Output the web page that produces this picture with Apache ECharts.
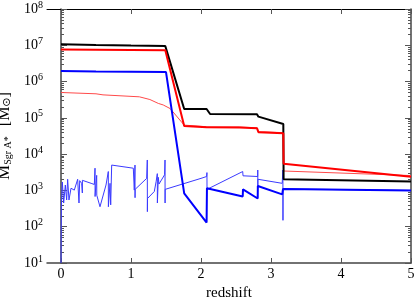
<!DOCTYPE html>
<html><head><meta charset="utf-8">
<script src="https://cdn.jsdelivr.net/npm/echarts@6/dist/echarts.min.js"></script>
<style>html,body{margin:0;padding:0;background:#fff}#c{width:415px;height:299px}</style>
</head><body><div id="c"></div>
<script>
// Data: [redshift, mass in solar masses]
var blackTotal = [[0,1.07e7],[0.5,1.02e7],[1.0,9.8e6],[1.49,9.5e6],[1.76,1.76e5],[2.08,1.76e5],[2.13,1.28e5],[2.80,1.26e5],[2.82,1.08e5],[3.176,6.8e4],[3.18,2030],[5,1750]];
var redThick = [[0,7.6e6],[0.5,7.5e6],[1.0,7.4e6],[1.49,7.3e6],[1.76,5.97e4],[2.08,5.5e4],[2.55,5.4e4],[2.80,5.2e4],[2.82,4.0e4],[3.176,3.76e4],[3.18,5400],[5,2400]];
var redThin = [[0,5.0e5],[0.5,4.6e5],[0.6,4.3e5],[1.12,3.8e5],[1.27,3.2e5],[1.39,2.5e5],[1.46,2.27e5],[1.56,1.8e5],[1.76,6.3e4],[2.08,5.7e4],[2.55,5.6e4],[2.80,5.3e4],[2.82,4.2e4],[3.176,3.9e4],[3.18,3430],[5,2570]];
var blueThick = [[0,1.95e6],[0.5,1.9e6],[1.0,1.87e6],[1.5,1.83e6],[1.76,830],[2.08,130],[2.085,1150],[2.596,680],[2.6,1070],[2.81,600],[2.812,1320],[3.16,780],[3.172,1100],[5,1000]];
var blueThin = [[0,10],[0.005,355],[0.019,1710],[0.038,450],[0.062,1410],[0.081,545],[0.095,2030],[0.114,545],[0.143,1150],[0.162,1260],[0.19,1020],[0.238,2030],[0.257,450],[0.267,1860],[0.295,1570],[0.305,850],[0.306,1900],[0.43,1570],[0.476,1460],[0.486,4100],[0.487,680],[0.5,1570],[0.51,2600],[0.511,740],[0.557,355],[0.643,1410],[0.676,3320],[0.677,355],[0.7,1570],[0.71,400],[0.724,5000],[1.033,4100],[1.047,1020],[1.057,5000],[1.058,630],[1.059,1070],[1.224,2150],[1.233,6900],[1.234,260],[1.236,600],[1.333,935],[1.36,1800],[1.376,2900],[1.377,450],[1.39,2300],[1.40,1500],[1.48,2700],[1.486,6900],[1.487,450],[1.488,1070],[2.0,2150],[2.08,2420],[2.085,3100],[2.086,1070],[2.596,3320],[2.6,2530],[2.81,2420],[2.811,3650],[2.812,1250],[2.813,2030],[3.16,1570],[3.17,3650],[3.171,150],[3.172,1100],[5,1000]];
var xTicks = [0,1,2,3,4,5];
var yMajor = [1e1,1e2,1e3,1e4,1e5,1e6,1e7,1e8];
var yMinor = (function(){var a=[];for(var d=1;d<8;d++){for(var k=2;k<=9;k++){a.push(k*Math.pow(10,d));}}return a;})();

var FONT = 'Liberation Serif';
var axisCol = '#444';
function yAx(pos, major, showLine, lbl){
  return {type:'log', logBase:10, min:10, max:1e8, position:pos,
    axisLine:{show:showLine, lineStyle:{color: axisCol, width:1.5}},
    axisTick:{show:true, inside:true, length: major?6:3, customValues: major?yMajor:yMinor, lineStyle:{color:'#555', width:1}},
    axisLabel:{show:lbl, margin:4, customValues:yMajor, fontFamily:FONT, fontSize:14, color:'#000',
      formatter:function(v){return '10{s|'+Math.round(Math.log10(v))+'}';},
      rich:{s:{fontSize:10, fontFamily:FONT, verticalAlign:'top', padding:[0,0,8,0], color:'#000'}}},
    splitLine:{show:false},
    name: lbl ? '{m|M}{sub|Sgr A*}   {b|[M}{o|⊙}{b|]}' : '',
    nameLocation:'middle', nameGap:34, nameRotate:90,
    nameTextStyle:{rich:{
      m:{fontFamily:FONT,fontSize:17,color:'#000'},
      sub:{fontFamily:FONT,fontSize:10,color:'#000',verticalAlign:'bottom',padding:[5,0,0,0]},
      b:{fontFamily:FONT,fontSize:16,color:'#000'},
      o:{fontFamily:'DejaVu Sans',fontSize:11,color:'#000',verticalAlign:'bottom',padding:[3,0,0,0]}
    }}
  };
}
function line(d, color, w){
  return {type:'line', data:d, showSymbol:false, symbol:'none', animation:false, xAxisIndex:0, yAxisIndex:0,
    lineStyle:{color:color, width:w}, itemStyle:{color:color}};
}
var chart = echarts.init(document.getElementById('c'), null, {renderer:'canvas'});
chart.setOption({
  animation:false,
  grid:{left:47, right:4, top:9, bottom:36, containLabel:false, outerBoundsMode:'none'},
  xAxis:[
    {type:'value', min:-0.2, max:5, position:'bottom',
      axisLine:{show:true, onZero:false, lineStyle:{color:axisCol, width:1.5}},
      axisTick:{show:true, inside:true, length:5, customValues:xTicks, lineStyle:{color:'#555'}},
      axisLabel:{customValues:xTicks, fontFamily:FONT, fontSize:14, color:'#000', margin:4},
      splitLine:{show:false},
      name:'redshift', nameLocation:'middle', nameGap:21,
      nameTextStyle:{fontFamily:FONT, fontSize:15, color:'#000'}},
    {type:'value', min:-0.2, max:5, position:'top',
      axisLine:{show:true, onZero:false, lineStyle:{color:'#000', width:1}},
      axisTick:{show:true, inside:true, length:5, customValues:xTicks, lineStyle:{color:'#555'}},
      axisLabel:{show:false}, splitLine:{show:false}}
  ],
  yAxis:[ yAx('left', true, true, true), yAx('left', false, false, false), yAx('right', true, true, false), yAx('right', false, false, false) ],
  series:[
    line(blueThin, '#3a3aff', 1),
    line(redThin, '#ff4a4a', 1),
    line(blackTotal, '#000000', 2),
    line(redThick, '#ff0000', 2),
    line(blueThick, '#0000ff', 2)
  ]
});
</script></body></html>
